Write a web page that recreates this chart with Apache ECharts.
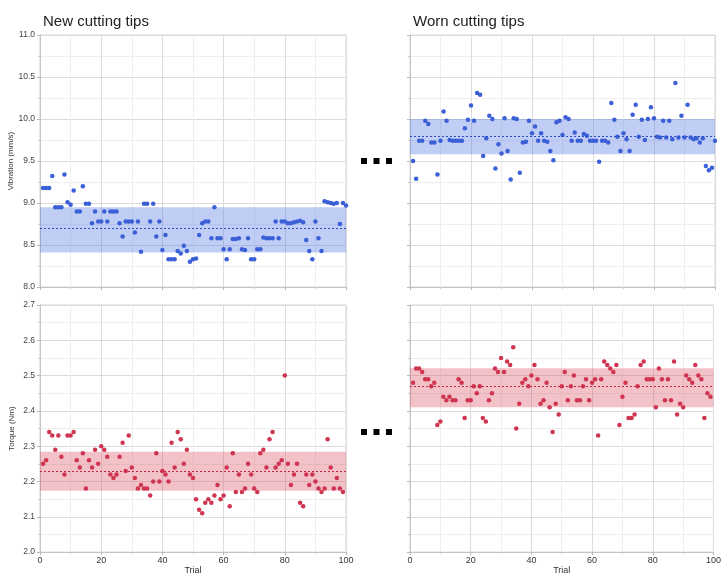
<!DOCTYPE html>
<html>
<head>
<meta charset="utf-8">
<script src="https://cdn.jsdelivr.net/npm/echarts@6/dist/echarts.min.js"></script>
<style>html,body{margin:0;padding:0;background:#fff}#c{width:724px;height:576px}</style>
</head>
<body>
<div id="c"></div>
<script>
// ---- data ----
var panelTitles = ["New cutting tips", "Worn cutting tips"];
var xTicks = [0, 20, 40, 60, 80, 100];

var vibNew = [9.18,9.18,9.18,9.32,8.95,8.95,8.95,9.34,9.01,8.98,
  9.15,8.90,8.90,9.20,8.99,8.99,8.76,8.90,8.78,8.78,
  8.90,8.78,8.90,8.90,8.90,8.76,8.60,8.78,8.78,8.78,
  8.65,8.78,8.42,8.99,8.99,8.78,8.99,8.60,8.78,8.44,
  8.62,8.33,8.33,8.33,8.43,8.40,8.49,8.43,8.30,8.33,
  8.34,8.62,8.76,8.78,8.78,8.58,8.95,8.58,8.58,8.45,
  8.33,8.45,8.57,8.57,8.58,8.45,8.44,8.58,8.33,8.33,
  8.45,8.45,8.59,8.58,8.58,8.58,8.78,8.58,8.78,8.78,
  8.76,8.76,8.77,8.78,8.79,8.77,8.56,8.43,8.33,8.78,
  8.58,8.43,9.02,9.01,9.00,8.99,9.00,8.75,9.00,8.97];

var vibWorn = [9.50,9.29,9.74,9.74,9.98,9.94,9.72,9.72,9.34,9.74,
  10.09,9.98,9.75,9.74,9.74,9.74,9.74,9.89,9.99,10.16,
  9.98,10.31,10.29,9.56,9.77,10.04,10.00,9.41,9.70,9.59,
  10.01,9.62,9.28,10.01,10.00,9.36,9.72,9.73,9.98,9.83,
  9.91,9.74,9.83,9.74,9.73,9.62,9.51,9.96,9.98,9.81,
  10.02,10.00,9.74,9.84,9.74,9.74,9.82,9.80,9.74,9.74,
  9.74,9.49,9.74,9.74,9.72,10.19,9.99,9.79,9.62,9.83,
  9.76,9.62,10.05,10.17,9.79,9.99,9.75,10.00,10.14,10.01,
  9.79,9.78,9.98,9.78,9.98,9.76,10.43,9.78,10.04,9.78,
  10.17,9.78,9.76,9.77,9.72,9.77,9.44,9.39,9.42,9.74];

var torNew = [2.25,2.26,2.34,2.33,2.29,2.33,2.27,2.22,2.33,2.33,
  2.34,2.26,2.24,2.28,2.18,2.26,2.24,2.29,2.25,2.30,
  2.29,2.27,2.22,2.21,2.22,2.27,2.31,2.23,2.33,2.24,
  2.21,2.18,2.19,2.18,2.18,2.16,2.20,2.28,2.20,2.23,
  2.22,2.20,2.31,2.24,2.34,2.32,2.25,2.29,2.22,2.21,
  2.15,2.12,2.11,2.14,2.15,2.14,2.16,2.19,2.15,2.16,
  2.24,2.13,2.28,2.17,2.22,2.17,2.18,2.25,2.22,2.18,
  2.17,2.28,2.29,2.24,2.32,2.34,2.24,2.25,2.26,2.50,
  2.25,2.19,2.22,2.25,2.14,2.13,2.22,2.19,2.22,2.20,
  2.18,2.17,2.18,2.32,2.24,2.18,2.21,2.18,2.17];

var torWorn = [2.48,2.52,2.52,2.51,2.49,2.49,2.47,2.48,2.36,2.37,
  2.44,2.43,2.44,2.43,2.43,2.49,2.48,2.38,2.43,2.43,
  2.47,2.45,2.47,2.38,2.37,2.43,2.45,2.52,2.51,2.55,
  2.51,2.54,2.53,2.58,2.35,2.42,2.48,2.49,2.47,2.50,
  2.53,2.49,2.42,2.43,2.48,2.41,2.34,2.42,2.39,2.47,
  2.51,2.43,2.47,2.50,2.43,2.43,2.47,2.49,2.43,2.48,
  2.49,2.33,2.49,2.54,2.53,2.52,2.51,2.53,2.36,2.44,
  2.48,2.38,2.38,2.39,2.47,2.53,2.54,2.49,2.49,2.49,
  2.41,2.52,2.49,2.43,2.49,2.43,2.54,2.39,2.42,2.41,
  2.50,2.49,2.48,2.53,2.50,2.49,2.38,2.45,2.44];

// control bands [lower, upper] and means
var vibNewBand = [8.41, 8.95], vibNewMean = 8.695;
var vibWornBand = [9.58, 10.00], vibWornMean = 9.785;
var torNewBand = [2.174, 2.284], torNewMean = 2.228;
var torWornBand = [2.41, 2.521], torWornMean = 2.466;

// ---- chart ----
var FONT = "'Liberation Sans', Arial, Helvetica, sans-serif";
var BLUE = '#3a5fd6', RED = '#cf3550';

function toPts(arr) { return arr.map(function (v, i) { return [i + 1, v]; }); }

function xAxisCfg(gi, showLabels) {
  return {
    type: 'value', gridIndex: gi, min: 0, max: 100, interval: 20,
    axisLine: { show: true, lineStyle: { color: '#c4c4c4' } },
    axisTick: { show: true, length: 3, lineStyle: { color: '#b8b8b8' } },
    minorTick: { show: true, splitNumber: 2, length: 2, lineStyle: { color: '#cfcfcf' } },
    splitLine: { show: true, lineStyle: { color: '#dcdcdc', width: 1 } },
    minorSplitLine: { show: true, lineStyle: { color: '#eeeeee', width: 1 } },
    axisLabel: { show: showLabels, fontSize: 9, color: '#333', margin: 4, fontFamily: FONT },
    name: showLabels ? 'Trial' : '', nameLocation: 'middle', nameGap: 13,
    nameTextStyle: { fontSize: 9, color: '#333', fontFamily: FONT }
  };
}
function yAxisCfg(gi, min, max, interval, showLabels, name) {
  return {
    type: 'value', gridIndex: gi, min: min, max: max, interval: interval,
    axisLine: { show: true, lineStyle: { color: '#c4c4c4' } },
    axisTick: { show: true, length: 3, lineStyle: { color: '#b8b8b8' } },
    minorTick: { show: true, splitNumber: 2, length: 2, lineStyle: { color: '#cfcfcf' } },
    splitLine: { show: true, lineStyle: { color: '#dcdcdc', width: 1 } },
    minorSplitLine: { show: true, lineStyle: { color: '#eeeeee', width: 1 } },
    axisLabel: { show: showLabels, fontSize: 8.5, color: '#444', margin: 5, fontFamily: FONT,
      formatter: function (v) { return v.toFixed(1); } },
    name: name || '', nameLocation: 'middle', nameGap: 24,
    nameTextStyle: { fontSize: 8, color: '#333', fontFamily: FONT }
  };
}
function seriesCfg(gi, data, color, band, mean, bandColor, lineColor) {
  return {
    type: 'scatter', xAxisIndex: gi, yAxisIndex: gi,
    data: toPts(data), symbolSize: 4.5,
    itemStyle: { color: color, opacity: 1 },
    markArea: { silent: true, itemStyle: { color: bandColor },
      data: [[{ yAxis: band[0] }, { yAxis: band[1] }]] },
    markLine: { silent: true, symbol: 'none', label: { show: false },
      lineStyle: { color: lineColor, type: [2, 2], width: 1 },
      data: [{ yAxis: mean }] }
  };
}

function squares(y) {
  return [361, 373.5, 386].map(function (x) {
    return { type: 'rect', shape: { x: x, y: y, width: 6, height: 6 }, style: { fill: '#000' } };
  });
}

var option = {
  animation: false,
  backgroundColor: '#fff',
  textStyle: { fontFamily: FONT },
  title: [
    { text: panelTitles[0], left: 38, top: 9, textStyle: { fontSize: 15, fontWeight: 'normal', color: '#222', fontFamily: FONT } },
    { text: panelTitles[1], left: 408, top: 9, textStyle: { fontSize: 15, fontWeight: 'normal', color: '#222', fontFamily: FONT } }
  ],
  grid: [
    { left: 40, top: 35, width: 306, height: 252, show: true, borderColor: '#d4d4d4', borderWidth: 1 },
    { left: 40, top: 305, width: 306, height: 251, show: true, borderColor: '#d4d4d4', borderWidth: 1 },
    { left: 410, top: 35, width: 305, height: 252, show: true, borderColor: '#d4d4d4', borderWidth: 1 },
    { left: 410, top: 305, width: 305, height: 251, show: true, borderColor: '#d4d4d4', borderWidth: 1 }
  ],
  xAxis: [xAxisCfg(0, false), xAxisCfg(1, true), xAxisCfg(2, false), xAxisCfg(3, true)],
  yAxis: [
    yAxisCfg(0, 8, 11, 0.5, true, 'Vibration (mm/s)'),
    yAxisCfg(1, 2, 2.7, 0.1, true, 'Torque (Nm)'),
    yAxisCfg(2, 8, 11, 0.5, false),
    yAxisCfg(3, 2, 2.7, 0.1, false)
  ],
  series: [
    seriesCfg(0, vibNew, BLUE, vibNewBand, vibNewMean, 'rgba(80,120,230,0.36)', '#2f4cc0'),
    seriesCfg(1, torNew, RED, torNewBand, torNewMean, 'rgba(220,80,100,0.35)', '#c42640'),
    seriesCfg(2, vibWorn, BLUE, vibWornBand, vibWornMean, 'rgba(80,120,230,0.36)', '#2f4cc0'),
    seriesCfg(3, torWorn, RED, torWornBand, torWornMean, 'rgba(220,80,100,0.35)', '#c42640')
  ],
  graphic: squares(158).concat(squares(429))
};

var chart = echarts.init(document.getElementById('c'), null, { renderer: 'canvas' });
chart.setOption(option);
</script>
</body>
</html>
